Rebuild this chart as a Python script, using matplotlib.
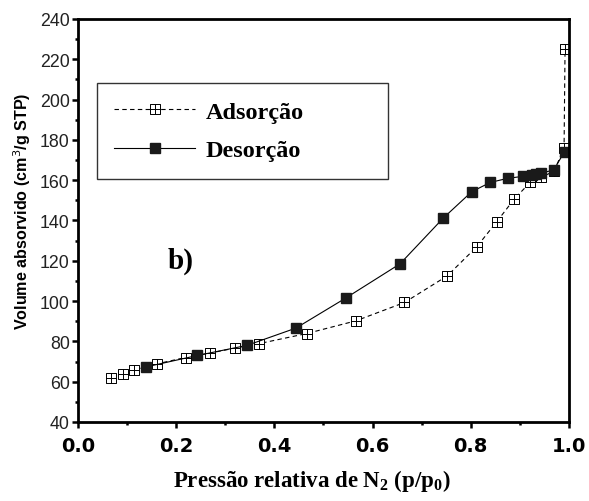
import matplotlib
matplotlib.use("Agg")
import matplotlib.pyplot as plt
from matplotlib.path import Path
from matplotlib.ticker import MultipleLocator

plt.rcParams['mathtext.fontset'] = 'custom'
plt.rcParams['mathtext.rm'] = 'Liberation Serif:bold'
plt.rcParams['mathtext.it'] = 'Liberation Serif:bold'
plt.rcParams['mathtext.bf'] = 'Liberation Serif:bold'

# isoterma de N2: adsorção e desorção
p_ads = [0.067, 0.091, 0.114, 0.160, 0.219, 0.269, 0.320, 0.369, 0.466, 0.566,
         0.665, 0.752, 0.812, 0.853, 0.889, 0.921, 0.944, 0.970, 0.990, 0.992]
v_ads = [61.8, 63.9, 65.7, 68.8, 72.0, 74.2, 76.7, 78.9, 83.9, 90.2,
         99.3, 112.5, 126.9, 139.4, 150.8, 158.9, 161.4, 164.6, 176.0, 225.0]

p_des = [0.991, 0.969, 0.944, 0.933, 0.924, 0.906, 0.875, 0.840, 0.802, 0.744,
         0.656, 0.546, 0.444, 0.344, 0.243, 0.138]
v_des = [174.2, 165.1, 163.5, 163.0, 162.6, 161.9, 160.9, 158.9, 154.3, 141.2,
         118.5, 101.6, 86.6, 78.0, 73.0, 67.3]

# marcador quadrado com cruz interna
verts = [(-1, -1), (1, -1), (1, 1), (-1, 1), (-1, -1),
         (0, -1), (0, 1), (-1, 0), (1, 0)]
codes = [Path.MOVETO, Path.LINETO, Path.LINETO, Path.LINETO, Path.CLOSEPOLY,
         Path.MOVETO, Path.LINETO, Path.MOVETO, Path.LINETO]
sq_cross = Path(verts, codes)

fig = plt.figure(figsize=(5.89, 5.02), dpi=100)
ax = fig.add_axes([0.1324, 0.1574, 0.8336, 0.8028])

ax.plot(p_ads, v_ads, color='black', linestyle=(0, (4, 3)), linewidth=0.8,
        marker=sq_cross, markersize=6.8, markerfacecolor='white',
        markeredgecolor='black', markeredgewidth=0.7, label='Adsorção')
ax.plot(p_des, v_des, color='black', linestyle='-', linewidth=0.8,
        marker='s', markersize=7.2, markerfacecolor='#1a1a1a',
        markeredgecolor='#1a1a1a', label='Desorção')

ax.set_xlim(0.0, 1.0)
ax.set_ylim(40, 240)
ax.xaxis.set_major_locator(MultipleLocator(0.2))
ax.xaxis.set_minor_locator(MultipleLocator(0.1))
ax.yaxis.set_major_locator(MultipleLocator(20))
ax.yaxis.set_minor_locator(MultipleLocator(10))
ax.xaxis.set_major_formatter(plt.FuncFormatter(lambda v, _: f"{v:.1f}"))

for s in ax.spines.values():
    s.set_linewidth(2.0)
ax.tick_params(which='major', direction='out', length=4, width=1.8)
ax.tick_params(which='minor', direction='out', length=2.5, width=1.8)
ax.tick_params(axis='x', which='major', pad=6)
ax.tick_params(axis='y', which='major', pad=2)

for lbl in ax.get_xticklabels():
    lbl.set_fontfamily('DejaVu Sans')
    lbl.set_fontweight('bold')
    lbl.set_fontsize(14)
for lbl in ax.get_yticklabels():
    lbl.set_fontfamily('Liberation Sans')
    lbl.set_fontsize(12.8)
    lbl.set_color('#222222')

ax.set_ylabel('Volume absorvido (cm$^3$/g STP)', fontfamily='Liberation Sans',
              fontweight='bold', fontsize=11.6)
ax.yaxis.get_label().set_math_fontfamily('dejavusans')
ax.yaxis.set_label_coords(-0.092, 0.525)
ax.set_xlabel('Pressão relativa de N$_2$ (p/p$_0$)', fontfamily='Liberation Serif',
              fontweight='bold', fontsize=16.5)
ax.xaxis.set_label_coords(0.477, -0.112)

ax.text(0.21, 120, 'b)', fontfamily='Liberation Serif', fontweight='bold',
        fontsize=21, ha='center', va='center')

leg = ax.legend(loc='upper left', bbox_to_anchor=(0.0387, 0.615, 0.592, 0.226),
                mode='expand', frameon=True, fancybox=False, numpoints=1,
                handlelength=3.3, handletextpad=0.45, labelspacing=0.68,
                borderpad=0.72, borderaxespad=0,
                prop={'family': 'Liberation Serif', 'weight': 'bold', 'size': 17.5})
leg.get_frame().set_edgecolor('black')
leg.get_frame().set_linewidth(1.0)

fig.savefig('out.png', dpi=100)
